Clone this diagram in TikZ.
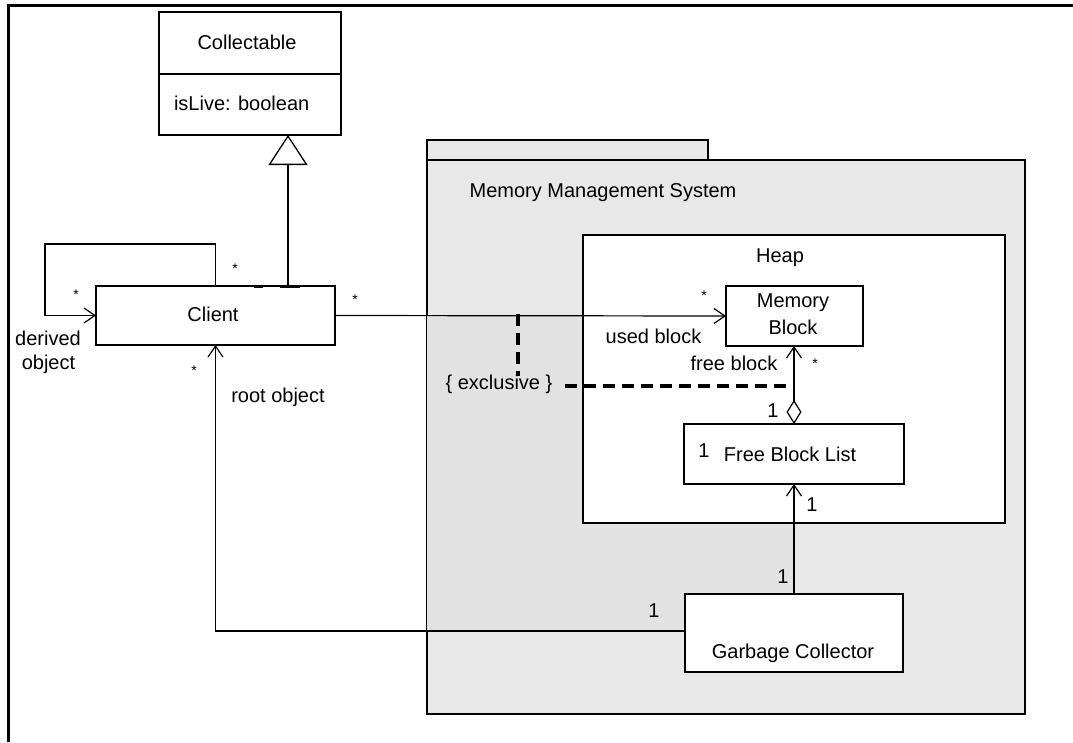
\documentclass[tikz,border=0pt]{standalone}
\usepackage{fontspec}
\setmainfont{Liberation Sans}
\usetikzlibrary{arrows.meta}
\definecolor{pkggray}{HTML}{E8E8E8}
\definecolor{pkgshade}{HTML}{E2E2E2}
\begin{document}
\begin{tikzpicture}[x=1pt,y=-1pt,
  every node/.style={font=\fontsize{20}{24}\selectfont, inner sep=0pt, outer sep=0pt},
  txt/.style={anchor=base},
  mult/.style={anchor=base, font=\fontsize{14}{16}\selectfont},
  cls/.style={draw, line width=1.3pt, fill=white, rectangle},
  conn/.style={line width=1.2pt},
  barb/.style={-{Straight Barb[length=11pt,width=15pt,line width=1.2pt]}},
  nav/.style={conn, barb},
  cstr/.style={line width=3.4pt, dash pattern=on 12pt off 7pt},
  pkg/.style={draw, line width=1.3pt, fill=pkggray},
]
\useasboundingbox (0,0) rectangle (1073,742);

% page frame
\draw[line width=3pt] (8,742) -- (8,5) -- (1073,5);

% package: Memory Management System
\draw[pkg] (427,140) rectangle (708,160);
\draw[pkg] (427,160) rectangle (1025,714);
\fill[pkgshade] (427,316) -- (583,316) -- (583,523) -- (795,523) -- (795,594)
  -- (685,594) -- (685,631) -- (427,631) -- cycle;
\node[txt] (mmslbl) at (603,197) {Memory Management System};

% heap
\node[cls, minimum width=422pt, minimum height=288pt] (heap) at (794,379) {};
\node[txt] (heaplbl) at (780,262) {Heap};

% classes
\node[cls, minimum width=182pt, minimum height=123pt] (coll) at (250,73.5) {};
\draw[line width=1.3pt] (coll.west |- 0,74) -- (coll.east |- 0,74);
\node[txt] (colllbl) at (247,49) {Collectable};
\node[anchor=base west] (collattr) at (174,110) {isLive: boolean};

\node[cls, minimum width=239pt, minimum height=59pt] (client) at (215.5,315.5) {};
\node[txt] (clientlbl) at (213,321) {Client};

\node[cls, minimum width=137pt, minimum height=60pt] (mb) at (794.5,316) {};
\node[txt] (mblbl1) at (793,307) {Memory};
\node[txt] (mblbl2) at (793,334) {Block};

\node[cls, minimum width=220pt, minimum height=60pt] (fbl) at (794,454) {};
\node[txt] (fblone) at (704,457) {1};
\node[txt] (fbllbl) at (790,461) {Free Block List};

\node[cls, minimum width=218pt, minimum height=78pt] (gc) at (794,633) {};
\node[txt] (gclbl) at (793,658) {Garbage Collector};

% generalization Client -> Collectable
\coordinate (genfoot) at (288,286);
\draw[conn, -{Triangle[open,length=30pt,width=39pt,line width=1.3pt]}]
  (genfoot) -- (genfoot |- coll.south);
\draw[line width=3pt] (254,286) -- (263,286) (280,286) -- (300,286);

% self association of Client
\coordinate (loopcorner) at (45,244);
\draw[nav] (client.north) |- (loopcorner) |- (client.west);
\node[mult] (m1) at (235,273) {*};
\node[mult] (m2) at (76,299) {*};
\node[txt] (derived) at (48,345) {derived};
\node[txt] (derived2) at (48.5,369) {object};

% Client -> Memory Block (used block)
\draw[nav] (client.east) -- (mb.west);
\node[mult] (m3) at (355,304) {*};
\node[mult] (m4) at (704,300) {*};
\node[txt] (usedlbl) at (653.5,343) {used block};

% Free Block List <>-> Memory Block (free block)
\draw[conn, {Diamond[open,length=24pt,width=15pt,line width=1.2pt]}-{Straight Barb[length=11pt,width=15pt,line width=1.2pt]}]
  (fbl.north) -- (fbl.north |- mb.south);
\node[txt] (freelbl) at (734,370) {free block};
\node[mult] (m5) at (815,368) {*};
\node[txt] (m6) at (773,417) {1};

% Garbage Collector -> Free Block List
\draw[nav] (gc.north) -- (gc.north |- fbl.south);
\node[txt] (m7) at (812,511) {1};
\node[txt] (m8) at (783,583) {1};

% Garbage Collector -> Client (root object)
\coordinate (rootcorner) at (215.5,631);
\draw[nav] (gc.west |- rootcorner) -- (rootcorner) -- (client.south);
\node[txt] (rootlbl) at (278,402) {root object};
\node[mult] (m9) at (194,375) {*};
\node[txt] (m10) at (654,617) {1};

% {exclusive} constraint
\node[txt] (excl) at (499,389) {\{ exclusive \}};
\coordinate (exv) at (518,314);
\draw[cstr] (exv) -- (exv |- 0,376);
\coordinate (exh) at (565,386);
\draw[cstr] (exh) -- (exh -| fbl.north);
\end{tikzpicture}
\end{document}
